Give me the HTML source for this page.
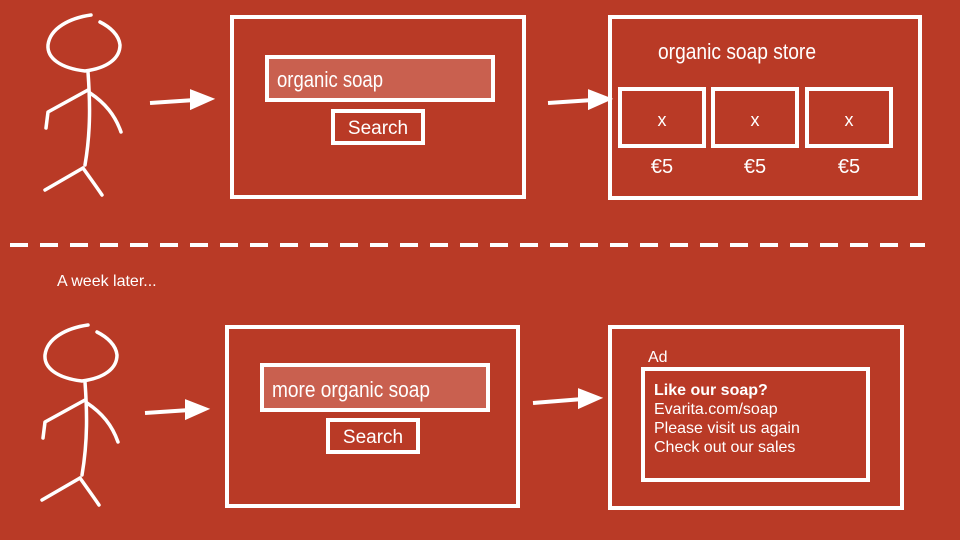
<!DOCTYPE html>
<html><head><style>body{margin:0}svg{display:block}</style></head><body>
<svg width="960" height="540" viewBox="0 0 960 540" xmlns="http://www.w3.org/2000/svg">
<rect width="960" height="540" fill="#B93A26"/>
<g id="fig" fill="none" stroke="#fff" stroke-width="3.5" stroke-linecap="round" stroke-linejoin="round">
<path d="M91,15 C70,18 50,28 48,45 C47,58 60,68 85,71 C108,68 120,58 120,45 C119,35 110,27 100,22"/>
<path d="M88,72 C90,100 91,130 85,165"/>
<path d="M88,90 L48,112 L46,128"/>
<path d="M90,93 C105,103 115,115 121,132"/>
<path d="M83,168 L45,190"/>
<path d="M83,168 C90,178 96,186 102,195"/>
</g>
<use href="#fig" transform="translate(-3,310)"/>
<g fill="none" stroke="#fff" stroke-width="4">
<rect x="232" y="17" width="292" height="180"/>
<rect x="610" y="17" width="310" height="181"/>
<rect x="620" y="89" width="84" height="57"/>
<rect x="713" y="89" width="84" height="57"/>
<rect x="807" y="89" width="84" height="57"/>
<rect x="333" y="111" width="90" height="32"/>
<rect x="227" y="327" width="291" height="179"/>
<rect x="328" y="420" width="90" height="32"/>
<rect x="610" y="327" width="292" height="181"/>
<rect x="643" y="369" width="225" height="111"/>
</g>
<rect x="267" y="57" width="226" height="43" fill="#C9604F" stroke="#fff" stroke-width="4"/>
<rect x="262" y="365" width="226" height="45" fill="#C9604F" stroke="#fff" stroke-width="4"/>
<g stroke="#fff" stroke-width="4" fill="#fff">
<line x1="150" y1="103" x2="195" y2="100"/><polygon points="192,92 210,99 192,107"/>
<line x1="548" y1="103" x2="593" y2="100"/><polygon points="590,92 608,99 590,107" />
<line x1="145" y1="413" x2="190" y2="410"/><polygon points="187,402 205,409 187,417"/>
<line x1="533" y1="403" x2="583" y2="399"/><polygon points="580,391 598,398 580,406"/>
</g>
<line x1="10" y1="245" x2="925" y2="245" stroke="#fff" stroke-width="4" stroke-dasharray="18 12"/>
<g fill="#fff" font-family="Liberation Sans Narrow, Liberation Sans, sans-serif" font-weight="300">
<text x="277" y="87" font-size="22" textLength="106" lengthAdjust="spacingAndGlyphs">organic soap</text>
<text x="272" y="397" font-size="22" textLength="158" lengthAdjust="spacingAndGlyphs">more organic soap</text>
<text x="658" y="59" font-size="22" textLength="158" lengthAdjust="spacingAndGlyphs">organic soap store</text>
<text x="662" y="126" font-size="18" text-anchor="middle">x</text>
<text x="755" y="126" font-size="18" text-anchor="middle">x</text>
<text x="849" y="126" font-size="18" text-anchor="middle">x</text>
<text x="662" y="173" font-size="20" text-anchor="middle">€5</text>
<text x="755" y="173" font-size="20" text-anchor="middle">€5</text>
<text x="849" y="173" font-size="20" text-anchor="middle">€5</text>
</g>
<g fill="#fff" font-family="Liberation Sans, sans-serif">
<text x="378" y="134" font-size="19" text-anchor="middle">Search</text>
<text x="373" y="443" font-size="19" text-anchor="middle">Search</text>
<text x="57" y="286" font-size="16">A week later...</text>
<text x="648" y="362" font-size="16">Ad</text>
<text x="654" y="395" font-size="16" font-weight="bold">Like our soap?</text>
<text x="654" y="414" font-size="16">Evarita.com/soap</text>
<text x="654" y="433" font-size="16">Please visit us again</text>
<text x="654" y="452" font-size="16">Check out our sales</text>
</g>
</svg>
</body></html>
